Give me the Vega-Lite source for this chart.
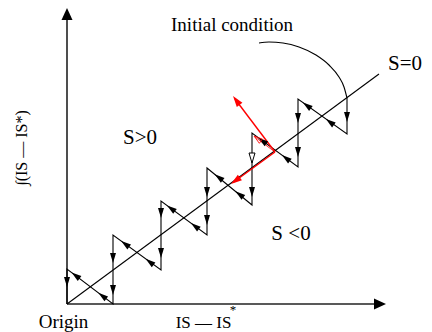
{
  "$schema": "https://vega.github.io/schema/vega-lite/v6.json",
  "width": 432,
  "height": 332,
  "autosize": {"type": "fit", "contains": "padding"},
  "padding": 0,
  "background": "white",
  "config": {"view": {"stroke": null}, "text": {"font": "Liberation Serif", "color": "black"}},
  "datasets": {
    "lines": [
      {"id": "yaxis", "g": "axis", "o": 0, "x": 0, "y": 0},
      {"id": "yaxis", "g": "axis", "o": 1, "x": 0, "y": 29.0},
      {"id": "xaxis", "g": "axis", "o": 0, "x": 0, "y": 0},
      {"id": "xaxis", "g": "axis", "o": 1, "x": 31.3, "y": 0},
      {"id": "s0", "g": "s0", "o": 0, "x": 0, "y": 0},
      {"id": "s0", "g": "s0", "o": 1, "x": 31.2, "y": 23.0},
      {"id": "zig", "g": "zig", "o": 0, "x": 28.0, "y": 20.6},
      {"id": "zig", "g": "zig", "o": 1, "x": 28.0, "y": 17.0},
      {"id": "zig", "g": "zig", "o": 2, "x": 23.1, "y": 20.5},
      {"id": "zig", "g": "zig", "o": 3, "x": 23.1, "y": 13.7},
      {"id": "zig", "g": "zig", "o": 4, "x": 18.5, "y": 17.1},
      {"id": "zig", "g": "zig", "o": 5, "x": 18.5, "y": 9.9},
      {"id": "zig", "g": "zig", "o": 6, "x": 14.0, "y": 13.6},
      {"id": "zig", "g": "zig", "o": 7, "x": 14.0, "y": 6.9},
      {"id": "zig", "g": "zig", "o": 8, "x": 9.4, "y": 10.3},
      {"id": "zig", "g": "zig", "o": 9, "x": 9.4, "y": 3.4},
      {"id": "zig", "g": "zig", "o": 10, "x": 4.6, "y": 6.9},
      {"id": "zig", "g": "zig", "o": 11, "x": 4.6, "y": 0},
      {"id": "zig", "g": "zig", "o": 12, "x": 0, "y": 3.5},
      {"id": "zig", "g": "zig", "o": 13, "x": 0, "y": 0},
      {"id": "arc", "g": "arc", "o": 0, "x": 19.2, "y": 26.1},
      {"id": "arc", "g": "arc", "o": 1, "x": 20.2, "y": 26.2},
      {"id": "arc", "g": "arc", "o": 2, "x": 21.6, "y": 26.1},
      {"id": "arc", "g": "arc", "o": 3, "x": 23.2, "y": 25.7},
      {"id": "arc", "g": "arc", "o": 4, "x": 24.9, "y": 24.9},
      {"id": "arc", "g": "arc", "o": 5, "x": 26.2, "y": 23.9},
      {"id": "arc", "g": "arc", "o": 6, "x": 27.2, "y": 22.7},
      {"id": "arc", "g": "arc", "o": 7, "x": 27.7, "y": 21.7},
      {"id": "arc", "g": "arc", "o": 8, "x": 28.0, "y": 20.6},
      {"id": "r1", "g": "red", "o": 0, "x": 20.8, "y": 15.2},
      {"id": "r1", "g": "red", "o": 1, "x": 16.8, "y": 20.5},
      {"id": "r2", "g": "red", "o": 0, "x": 20.8, "y": 15.2},
      {"id": "r2", "g": "red", "o": 1, "x": 16.6, "y": 12.15},
      {"id": "r3", "g": "redthin", "o": 0, "x": 20.8, "y": 15.2},
      {"id": "r3", "g": "redthin", "o": 1, "x": 18.8, "y": 16.7}
    ],
    "arrows": [
      {"k": "down", "x": 0, "y": 1.7},
      {"k": "down", "x": 4.6, "y": 4.1},
      {"k": "down", "x": 4.6, "y": 0.9},
      {"k": "down", "x": 9.4, "y": 8.6},
      {"k": "down", "x": 9.4, "y": 4.6},
      {"k": "down", "x": 14.0, "y": 10.7},
      {"k": "down", "x": 14.0, "y": 7.9},
      {"k": "down", "x": 18.5, "y": 10.7},
      {"k": "down", "x": 23.1, "y": 18.1},
      {"k": "down", "x": 23.1, "y": 14.7},
      {"k": "down", "x": 28.0, "y": 18.2},
      {"k": "hollow", "x": 18.5, "y": 14.1},
      {"k": "diag", "x": 0.46, "y": 3.15},
      {"k": "diag", "x": 3.13, "y": 1.12},
      {"k": "diag", "x": 5.42, "y": 6.30},
      {"k": "diag", "x": 7.86, "y": 4.52},
      {"k": "diag", "x": 10.0, "y": 9.86},
      {"k": "diag", "x": 12.39, "y": 8.09},
      {"k": "diag", "x": 14.77, "y": 12.97},
      {"k": "diag", "x": 16.84, "y": 11.27},
      {"k": "diag", "x": 19.14, "y": 16.62},
      {"k": "diag", "x": 21.49, "y": 14.89},
      {"k": "diag", "x": 23.59, "y": 20.15},
      {"k": "diag", "x": 25.89, "y": 18.5},
      {"k": "redup", "x": 16.6, "y": 20.8},
      {"k": "redlow", "x": 16.4, "y": 12.0},
      {"k": "redsmall", "x": 18.7, "y": 16.8},
      {"k": "axisup", "x": 0, "y": 29.6},
      {"k": "axisright", "x": 31.9, "y": 0}
    ],
    "labels": [
      {"k": "init", "t": "Initial condition", "x": 16.5, "y": 27.3},
      {"k": "big", "t": "S=0", "x": 33.8, "y": 23.4},
      {"k": "big", "t": "S>0", "x": 7.3, "y": 16.0},
      {"k": "big", "t": "S <0", "x": 22.4, "y": 6.4},
      {"k": "origin", "t": "Origin", "x": -0.35, "y": -2.37},
      {"k": "xlab", "t": "IS —  IS", "x": 13.65, "y": -2.4},
      {"k": "star", "t": "*", "x": 16.6, "y": -1.0},
      {"k": "ylab", "t": "∫(IS —  IS*)", "x": -4.0, "y": 15.6}
    ]
  },
  "encoding": {
    "x": {"field": "x", "type": "quantitative", "scale": {"domain": [-6.7, 36.5], "nice": false, "zero": false}, "axis": null},
    "y": {"field": "y", "type": "quantitative", "scale": {"domain": [-2.8, 30.4], "nice": false, "zero": false}, "axis": null}
  },
  "layer": [
    {"data": {"name": "lines"}, "transform": [{"filter": "datum.g == 'axis'"}],
     "mark": {"type": "line", "color": "#222", "strokeWidth": 1.6},
     "encoding": {"detail": {"field": "id"}, "order": {"field": "o"}}},
    {"data": {"name": "lines"}, "transform": [{"filter": "datum.g == 's0' || datum.g == 'zig'"}],
     "mark": {"type": "line", "color": "black", "strokeWidth": 1.1},
     "encoding": {"detail": {"field": "id"}, "order": {"field": "o"}}},
    {"data": {"name": "lines"}, "transform": [{"filter": "datum.g == 'arc'"}],
     "mark": {"type": "line", "color": "black", "strokeWidth": 1.1, "interpolate": "monotone"},
     "encoding": {"detail": {"field": "id"}, "order": {"field": "o"}}},
    {"data": {"name": "lines"}, "transform": [{"filter": "datum.g == 'red'"}],
     "mark": {"type": "line", "color": "#ff0000", "strokeWidth": 1.4},
     "encoding": {"detail": {"field": "id"}, "order": {"field": "o"}}},
    {"data": {"name": "lines"}, "transform": [{"filter": "datum.g == 'redthin'"}],
     "mark": {"type": "line", "color": "#ff0000", "strokeWidth": 0.8},
     "encoding": {"detail": {"field": "id"}, "order": {"field": "o"}}},
    {"data": {"name": "arrows"}, "transform": [{"filter": "datum.k == 'down'"}],
     "mark": {"type": "point", "shape": "M0,0L0.3,1L-0.3,1Z", "filled": true, "color": "black", "opacity": 1, "size": 400, "angle": 180, "strokeWidth": 0}},
    {"data": {"name": "arrows"}, "transform": [{"filter": "datum.k == 'hollow'"}],
     "mark": {"type": "point", "shape": "M0,0L0.3,1L-0.3,1Z", "filled": false, "fill": "white", "stroke": "black", "opacity": 1, "size": 400, "angle": 180, "strokeWidth": 1}},
    {"data": {"name": "arrows"}, "transform": [{"filter": "datum.k == 'diag'"}],
     "mark": {"type": "point", "shape": "M0,0L0.3,1L-0.3,1Z", "filled": true, "color": "black", "opacity": 1, "size": 400, "angle": 307, "strokeWidth": 0}},
    {"data": {"name": "arrows"}, "transform": [{"filter": "datum.k == 'redup'"}],
     "mark": {"type": "point", "shape": "M0,0L0.35,1.1L-0.35,1.1Z", "filled": true, "color": "#ff0000", "opacity": 1, "size": 400, "angle": 323, "strokeWidth": 0}},
    {"data": {"name": "arrows"}, "transform": [{"filter": "datum.k == 'redlow'"}],
     "mark": {"type": "point", "shape": "M0,0L0.35,1.1L-0.35,1.1Z", "filled": true, "color": "#ff0000", "opacity": 1, "size": 400, "angle": 234, "strokeWidth": 0}},
    {"data": {"name": "arrows"}, "transform": [{"filter": "datum.k == 'redsmall'"}],
     "mark": {"type": "point", "shape": "M0,0L0.3,1L-0.3,1Z", "filled": false, "stroke": "#ff0000", "opacity": 1, "size": 300, "angle": 307, "strokeWidth": 0.8}},
    {"data": {"name": "arrows"}, "transform": [{"filter": "datum.k == 'axisup'"}],
     "mark": {"type": "point", "shape": "M0,0L0.55,1.2L-0.55,1.2Z", "filled": true, "color": "black", "opacity": 1, "size": 400, "angle": 0, "strokeWidth": 0}},
    {"data": {"name": "arrows"}, "transform": [{"filter": "datum.k == 'axisright'"}],
     "mark": {"type": "point", "shape": "M0,0L0.55,1.2L-0.55,1.2Z", "filled": true, "color": "black", "opacity": 1, "size": 400, "angle": 90, "strokeWidth": 0}},
    {"data": {"name": "labels"}, "transform": [{"filter": "datum.k == 'init'"}],
     "mark": {"type": "text", "fontSize": 19, "align": "center", "baseline": "alphabetic"},
     "encoding": {"text": {"field": "t"}}},
    {"data": {"name": "labels"}, "transform": [{"filter": "datum.k == 'big'"}],
     "mark": {"type": "text", "fontSize": 21, "align": "center", "baseline": "alphabetic"},
     "encoding": {"text": {"field": "t"}}},
    {"data": {"name": "labels"}, "transform": [{"filter": "datum.k == 'origin'"}],
     "mark": {"type": "text", "fontSize": 19, "align": "center", "baseline": "alphabetic"},
     "encoding": {"text": {"field": "t"}}},
    {"data": {"name": "labels"}, "transform": [{"filter": "datum.k == 'xlab'"}],
     "mark": {"type": "text", "fontSize": 17, "align": "center", "baseline": "alphabetic"},
     "encoding": {"text": {"field": "t"}}},
    {"data": {"name": "labels"}, "transform": [{"filter": "datum.k == 'star'"}],
     "mark": {"type": "text", "fontSize": 13, "align": "center", "baseline": "alphabetic"},
     "encoding": {"text": {"field": "t"}}},
    {"data": {"name": "labels"}, "transform": [{"filter": "datum.k == 'ylab'"}],
     "mark": {"type": "text", "fontSize": 16, "align": "center", "baseline": "alphabetic", "angle": 270},
     "encoding": {"text": {"field": "t"}}}
  ]
}
